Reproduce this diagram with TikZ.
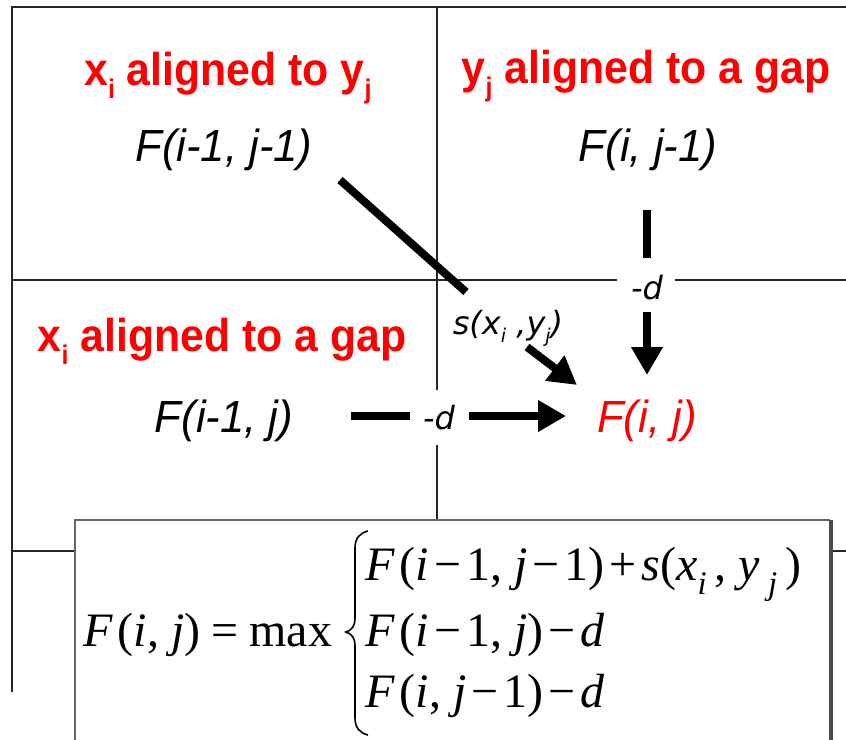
\documentclass[tikz,border=0pt]{standalone}
\usepackage{fontspec}
\usetikzlibrary{arrows.meta}
\newfontfamily\titlefont{Liberation Sans}[FakeStretch=0.93]
\newfontfamily\lblfont{Liberation Sans}[FakeStretch=0.97]
\newfontfamily\dfont{DejaVu Sans}
\newfontfamily\fmlfont{Liberation Serif}
\definecolor{ttred}{RGB}{255,0,0}
\newcommand\tsub[1]{\raisebox{-0.3em}{\fontsize{27}{27}\selectfont #1}}
\newcommand\lsub[1]{\raisebox{-0.25em}{\fontsize{19}{19}\selectfont #1}}
\newcommand\fsub[1]{\raisebox{-0.3em}{\fontsize{33}{33}\selectfont\itshape #1}}
\newcommand\op[1]{\kern5pt#1\kern5pt}
\begin{document}
\begin{tikzpicture}[x=1pt,y=-1pt,
  title/.style={text=ttred, font=\titlefont\bfseries\fontsize{46}{46}\selectfont, inner sep=0pt, anchor=base},
  flabel/.style={font=\lblfont\itshape\fontsize{45}{45}\selectfont, inner sep=0pt, anchor=base},
  dlabel/.style={font=\dfont\itshape\fontsize{32}{32}\selectfont, inner sep=0pt, anchor=base},
  frameline/.style={line width=2.5pt, black!85},
  thinline/.style={line width=1.5pt, black!85},
  seg/.style={line width=8pt, black},
  arr/.style={line width=8pt, black, -{Triangle[length=28pt,width=30pt]}},
  fml/.style={font=\fmlfont\fontsize{48}{48}\selectfont, inner sep=0pt, anchor=base west}]
\useasboundingbox (0,0) rectangle (846,739);
\clip (0,0) rectangle (846,739);
\fill[white] (0,0) rectangle (846,739);
% frame and grid
\draw[frameline] (12,692) -- (12,7) -- (846,7);
\draw[thinline] (437,7) -- (437,390);
\draw[thinline] (437,445) -- (437,520);
\draw[thinline] (12,280) -- (617,280);
\draw[thinline] (675,280) -- (846,280);
\draw[thinline] (12,551) -- (75,551);
\draw[thinline] (832,551) -- (846,551);
% titles
\node[title] (t1) at (228,85) {x\tsub{i} aligned to y\tsub{j}};
\node[title] (t2) at (646,83) {y\tsub{j} aligned to a gap};
\node[title] (t3) at (222,351) {x\tsub{i} aligned to a gap};
% cell labels
\node[flabel] (a) at (224,161) {F(i-1, j-1)};
\node[flabel] (b) at (648,161) {F(i, j-1)};
\node[flabel] (c) at (224,432) {F(i-1, j)};
\node[flabel, text=ttred] (d) at (647,432) {F(i, j)};
\node[dlabel] (dv) at (647,299) {-d};
\node[dlabel] (dh) at (439,429) {-d};
\node[dlabel] (s) at (508,334) {s(x\lsub{i} ,y\lsub{j})};
% connectors
\coordinate (a1) at (340,180); \coordinate (a2) at (466,292);
\coordinate (a3) at (527,347); \coordinate (a4) at (577,385);
\coordinate (b1) at (647,210); \coordinate (b2) at (647,258);
\coordinate (b3) at (647,312); \coordinate (b4) at (647,375);
\coordinate (c1) at (351,416); \coordinate (c2) at (410,416);
\coordinate (c3) at (469,416); \coordinate (c4) at (566,416);
\draw[seg] (a1) -- (a2);
\draw[arr] (a3) -- (a4);
\draw[seg] (b1) -- (b2);
\draw[arr] (b3) -- (b4);
\draw[seg] (c1) -- (c2);
\draw[arr] (c3) -- (c4);
% formula box
\fill[white] (75,520) rectangle (830,760);
\draw[line width=1.5pt, black!60] (830,520) -- (75,520) -- (75,760);
\draw[line width=4pt, black!70] (831,520) -- (831,760);
\node[fml] (lhs) at (83,646) {\textit{F}\kern5pt(\textit{i}, \textit{j})\kern11pt=\kern11pt max};
\draw[line width=1.6pt] (368,531) .. controls (360,533) and (355,538) .. (355,548) -- (355,618) .. controls (355,626) and (352,630) .. (346,632) .. controls (352,634) and (355,638) .. (355,646) -- (355,718) .. controls (355,728) and (360,733) .. (368,735);
\node[fml] (r1) at (365,580) {\textit{F}\kern5pt(\textit{i}\op{−}1, \textit{j}\op{−}1)\op{+}\textit{s}(\textit{x}\fsub{i}\,, \textit{y}\,\fsub{j}\,)};
\node[fml] (r2) at (365,646) {\textit{F}\kern5pt(\textit{i}\op{−}1, \textit{j})\op{−}\textit{d}};
\node[fml] (r3) at (365,707) {\textit{F}\kern5pt(\textit{i}, \textit{j}\op{−}1)\op{−}\textit{d}};
\end{tikzpicture}
\end{document}
